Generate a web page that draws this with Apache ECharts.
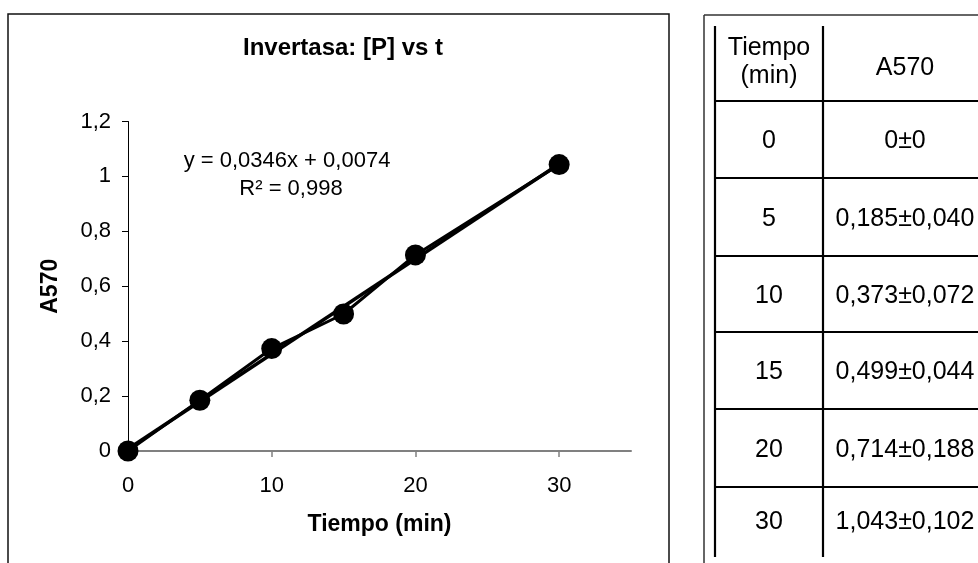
<!DOCTYPE html>
<html>
<head>
<meta charset="utf-8">
<script src="https://cdn.jsdelivr.net/npm/echarts@6/dist/echarts.min.js"></script>
<style>
  html, body { margin: 0; padding: 0; background: #fff; }
  #chart { width: 978px; height: 563px; }
</style>
</head>
<body>
<div id="chart"></div>
<script>
// ---- data ----
const timeMin = [0, 5, 10, 15, 20, 30];
const a570Mean = [0, 0.185, 0.373, 0.499, 0.714, 1.043];
const a570Sd = [0, 0.040, 0.072, 0.044, 0.188, 0.102];
const trendX = [0, 30];
const trendY = [0.0074, 1.0454];
const xTicks = [0, 10, 20, 30];
const titleText = 'Invertasa: [P] vs t';
const equationText = 'y = 0,0346x + 0,0074';
const r2Text = 'R² = 0,998';
const tableHeader = ['Tiempo\n(min)', 'A570'];

const FONT = "'Liberation Sans', Arial, sans-serif";
const fmt = v => v === 0 ? '0' : v.toFixed(3).replace('.', ',');

const chart = echarts.init(document.getElementById('chart'), null, { renderer: 'canvas' });

// ---- table graphics ----
const rowLines = [101, 178, 256, 332, 409, 487];
const rowCenters = [141.5, 219, 296, 372.5, 450, 522];
const col1X = 769, col2X = 905;
const TF = '25px ' + FONT;
const g = [];
// chart outer border
g.push({ type: 'rect', shape: { x: 8, y: 14, width: 661, height: 580 }, style: { fill: 'none', stroke: '#111', lineWidth: 1.5 }, z: 0 });
// table borders
g.push({ type: 'line', shape: { x1: 704, y1: 15, x2: 704, y2: 570 }, style: { stroke: '#333', lineWidth: 1.5 } });
g.push({ type: 'line', shape: { x1: 704, y1: 15, x2: 990, y2: 15 }, style: { stroke: '#333', lineWidth: 1.5 } });
g.push({ type: 'line', shape: { x1: 715, y1: 26, x2: 715, y2: 557 }, style: { stroke: '#000', lineWidth: 2.2 } });
g.push({ type: 'line', shape: { x1: 823, y1: 26, x2: 823, y2: 557 }, style: { stroke: '#000', lineWidth: 2.2 } });
rowLines.forEach(y => {
  g.push({ type: 'line', shape: { x1: 715, y1: y, x2: 990, y2: y }, style: { stroke: '#000', lineWidth: 2.2 } });
});
g.push({ type: 'text', x: col1X, y: 62, style: { text: tableHeader[0], fill: '#000', font: TF, textAlign: 'center', textVerticalAlign: 'middle', lineHeight: 28 } });
g.push({ type: 'text', x: col2X, y: 68, style: { text: tableHeader[1], fill: '#000', font: TF, textAlign: 'center', textVerticalAlign: 'middle' } });
timeMin.forEach((t, i) => {
  g.push({ type: 'text', x: col1X, y: rowCenters[i], style: { text: String(t), fill: '#000', font: TF, textAlign: 'center', textVerticalAlign: 'middle' } });
  g.push({ type: 'text', x: col2X, y: rowCenters[i], style: { text: fmt(a570Mean[i]) + '±' + fmt(a570Sd[i]), fill: '#000', font: TF, textAlign: 'center', textVerticalAlign: 'middle' } });
});
// regression equation
g.push({ type: 'text', x: 287, y: 161, style: { text: equationText, fill: '#000', font: '22px ' + FONT, textAlign: 'center', textVerticalAlign: 'middle' }, z: 10 });
g.push({ type: 'text', x: 291, y: 189, style: { text: r2Text, fill: '#000', font: '22px ' + FONT, textAlign: 'center', textVerticalAlign: 'middle' }, z: 10 });

const option = {
  animation: false,
  backgroundColor: '#fff',
  textStyle: { fontFamily: FONT },
  title: {
    text: titleText, left: 338, top: 31, textAlign: 'center',
    textStyle: { fontSize: 24, fontWeight: 'bold', color: '#000', fontFamily: FONT }
  },
  grid: { left: 128, top: 121.5, width: 503, height: 329.5 },
  xAxis: {
    type: 'value', min: 0, max: 35, interval: 10,
    name: 'Tiempo (min)', nameLocation: 'middle', nameGap: 62,
    nameTextStyle: { fontSize: 23, fontWeight: 'bold', color: '#000', fontFamily: FONT },
    axisLine: { show: true, lineStyle: { color: '#808080', width: 2 } },
    axisTick: { show: true, length: 6, customValues: xTicks, lineStyle: { color: '#808080', width: 1.5 } },
    axisLabel: { customValues: xTicks, margin: 24, fontSize: 22, color: '#000', fontFamily: FONT },
    splitLine: { show: false }
  },
  yAxis: {
    type: 'value', min: 0, max: 1.2, interval: 0.2,
    name: 'A570', nameLocation: 'middle', nameGap: 66, nameRotate: 90,
    nameTextStyle: { fontSize: 23, fontWeight: 'bold', color: '#000', fontFamily: FONT },
    axisLine: { show: true, lineStyle: { color: '#000', width: 1 } },
    axisTick: { show: true, length: 6, lineStyle: { color: '#000', width: 1 } },
    axisLabel: {
      margin: 17, fontSize: 22, color: '#000', fontFamily: FONT,
      formatter: v => String(Math.round(v * 10) / 10).replace('.', ',')
    },
    splitLine: { show: false }
  },
  series: [
    {
      name: 'Tendencia', type: 'line', data: trendX.map((x, i) => [x, trendY[i]]),
      showSymbol: false, symbol: 'none', lineStyle: { color: '#000', width: 3.5 }, z: 2, silent: true
    },
    {
      name: 'A570', type: 'line', data: timeMin.map((t, i) => [t, a570Mean[i]]),
      symbol: 'circle', symbolSize: 21, itemStyle: { color: '#000' },
      lineStyle: { color: '#000', width: 3 }, z: 3
    }
  ],
  graphic: { elements: g }
};
chart.setOption(option);
</script>
</body>
</html>
